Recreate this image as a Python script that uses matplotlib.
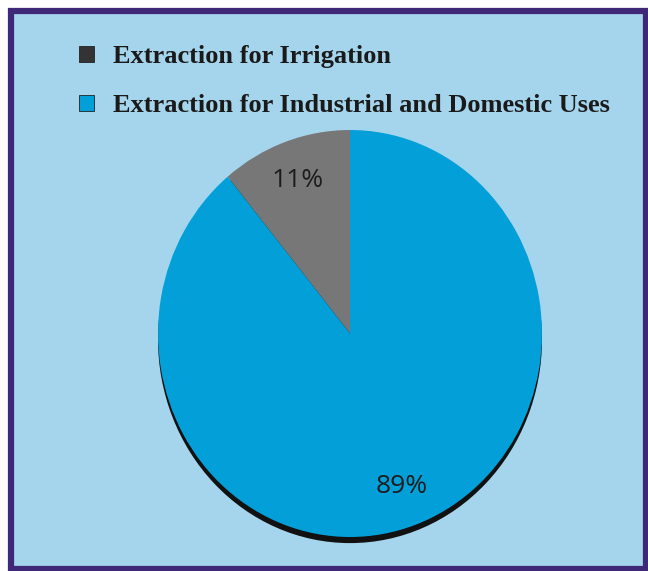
import matplotlib.pyplot as plt
from matplotlib.patches import Rectangle, Ellipse

labels = ['Extraction for Irrigation', 'Extraction for Industrial and Domestic Uses']
values = [11, 89]
wedge_colors = ['#777777', '#039fd8']
legend_colors = ['#333333', '#039fd8']

W, H = 648, 571
fig = plt.figure(figsize=(W / 100, H / 100), dpi=100)
fig.patch.set_facecolor('white')

# framed light-blue panel
fig.patches.append(Rectangle((11 / W, 2 / H), 635 / W, 558 / H, transform=fig.transFigure,
                             facecolor='#a5d5ed', edgecolor='#3f2878', linewidth=4.5, zorder=-5))

# pie axes (slightly taller than wide, as in the original)
ax = fig.add_axes([158 / W, (H - 537) / H, 384 / W, 407 / H])
ax.patch.set_alpha(0)
ax.set_zorder(1)

# shadow under the pie
ax.add_patch(Ellipse((0, -0.03), 2, 2, facecolor='#111111', edgecolor='none', zorder=0, clip_on=False))

wedges, texts, autotexts = ax.pie(values, colors=wedge_colors, startangle=90,
                                  autopct='%d%%', pctdistance=0.8,
                                  textprops=dict(fontsize=19, family='Open Sans', color='#1c1c1c'))
for w in wedges:
    w.set_zorder(1)
    w.set_clip_on(False)
for t in autotexts:
    t.set_zorder(3)
ax.set_aspect('auto')
ax.set_xlim(-1, 1)
ax.set_ylim(-1, 1)
ax.axis('off')

# legend
for i, (lab, col) in enumerate(zip(labels, legend_colors)):
    yc = H - (54 + 49 * i)
    fig.patches.append(Rectangle((79 / W, (yc - 7.5) / H), 15 / W, 15 / H, transform=fig.transFigure,
                                 facecolor=col, edgecolor='#222222', linewidth=0.6, zorder=2))
    fig.text(113 / W, (yc - 2) / H, lab, fontsize=19, family='Liberation Serif', fontweight='bold',
             color='#1a1a1a', va='center', ha='left')

fig.savefig('out.png', dpi=100)
